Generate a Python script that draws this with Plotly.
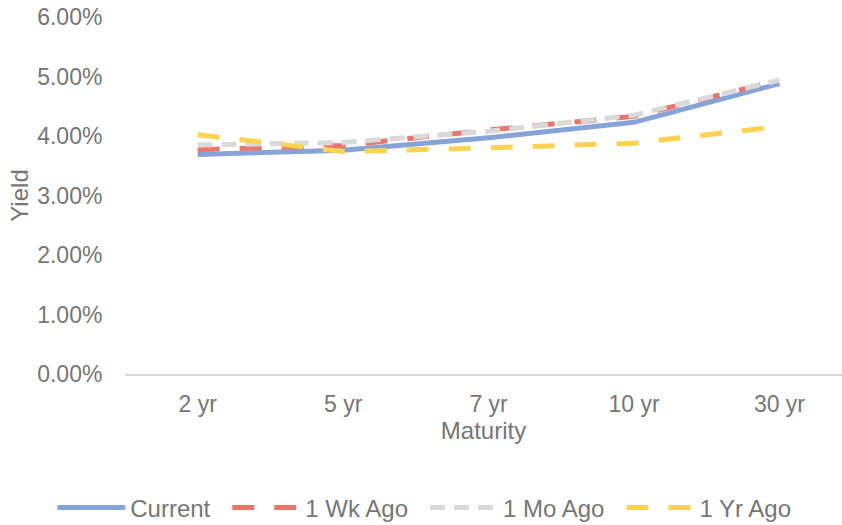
import plotly.graph_objects as go

maturities = ["2 yr", "5 yr", "7 yr", "10 yr", "30 yr"]
current = [3.69, 3.76, 3.97, 4.23, 4.88]
wk_ago = [3.77, 3.84, 4.10, 4.33, 4.94]
mo_ago = [3.85, 3.89, 4.08, 4.35, 4.94]
yr_ago = [4.02, 3.74, 3.80, 3.88, 4.16]
y_ticks = [0, 1, 2, 3, 4, 5, 6]
y_tick_labels = ["0.00%", "1.00%", "2.00%", "3.00%", "4.00%", "5.00%", "6.00%"]

series = [
    ("Current", current, "#86A4D8", "solid"),
    ("1 Wk Ago", wk_ago, "#E8766A", "22px,20px"),
    ("1 Mo Ago", mo_ago, "#D9D9D9", "15px,9px"),
    ("1 Yr Ago", yr_ago, "#FFD34F", "22px,20px"),
]

fig = go.Figure()
for name, vals, color, dash in series:
    fig.add_trace(go.Scatter(
        x=list(range(len(maturities))), y=vals, name=name + "\u2002", mode="lines",
        line=dict(color=color, width=5, dash=dash),
    ))

gray = "#767676"
left = 125 / 842
fig.update_layout(
    width=842, height=525,
    margin=dict(l=0, r=0, t=17, b=151, autoexpand=False),
    paper_bgcolor="white", plot_bgcolor="white",
    font=dict(family="Liberation Sans, Arial, sans-serif", size=23, color=gray),
    showlegend=True,
    legend=dict(orientation="h", xref="container", yref="container",
                x=0.511, xanchor="center", y=1 - 508 / 525, yanchor="middle",
                font=dict(size=24, color=gray), traceorder="normal", itemwidth=68),
    xaxis=dict(
        domain=[left, 1],
        tickmode="array", tickvals=list(range(len(maturities))), ticktext=maturities,
        range=[-0.5, 4.43], showgrid=False, zeroline=False,
        showline=True, linecolor="#D9D9D9", linewidth=1.5,
        ticks="outside", ticklen=9, tickcolor="rgba(0,0,0,0)",
        title=dict(text="Maturity", font=dict(size=24, color=gray), standoff=2),
        automargin=False,
    ),
    yaxis=dict(
        anchor="free", position=left,
        range=[0, 6], tickvals=y_ticks, ticktext=y_tick_labels,
        showgrid=False, zeroline=False, showline=False,
        ticks="outside", ticklen=18, tickcolor="rgba(0,0,0,0)",
        title=dict(text="Yield", font=dict(size=24, color=gray), standoff=0),
        automargin=False,
    ),
)

fig.write_html("out.html")
